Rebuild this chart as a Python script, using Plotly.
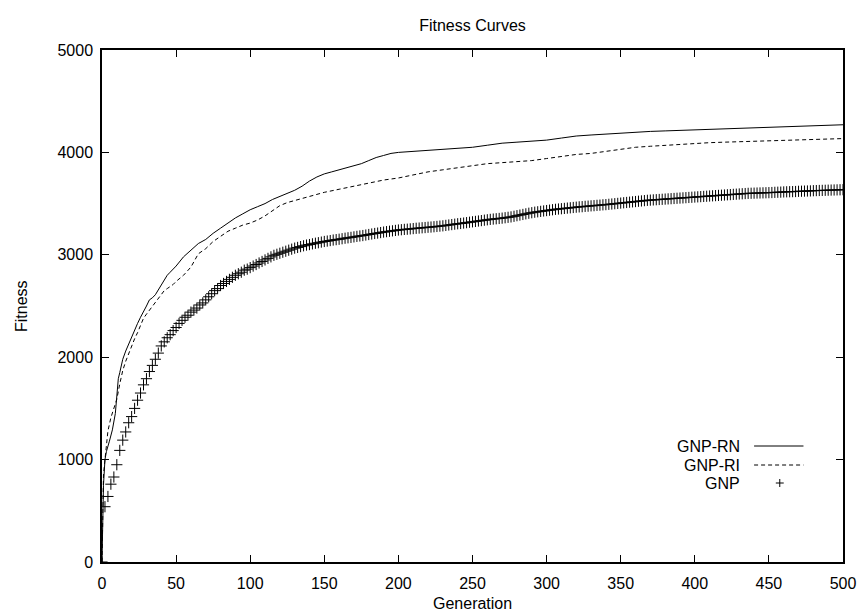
import plotly.graph_objects as go

# ---------------- data ----------------
rn_gen = [0, 1, 2, 3, 5, 7, 9, 10, 11, 12, 14, 16, 18, 20, 22, 24, 26, 28, 30, 32, 34, 36, 38, 40,
          42, 44, 46, 48, 50, 55, 60, 65, 70, 75, 80, 85, 90, 95, 100, 105, 110, 115, 120, 125,
          130, 135, 140, 145, 150, 155, 160, 165, 170, 175, 180, 185, 190, 195, 200, 210, 220,
          230, 240, 250, 260, 270, 280, 290, 300, 310, 320, 330, 340, 350, 360, 370, 380, 390,
          400, 410, 420, 430, 440, 450, 460, 470, 480, 490, 500]
rn_fit = [0, 750, 1000, 1080, 1180, 1290, 1450, 1600, 1790, 1850, 1980, 2060, 2130, 2200, 2270,
          2330, 2390, 2440, 2500, 2560, 2580, 2610, 2660, 2710, 2760, 2800, 2830, 2860, 2890,
          2980, 3050, 3110, 3150, 3210, 3260, 3310, 3360, 3400, 3440, 3470, 3500, 3540, 3570,
          3600, 3630, 3670, 3720, 3760, 3790, 3810, 3830, 3850, 3870, 3890, 3920, 3950, 3970,
          3990, 4000, 4010, 4020, 4030, 4040, 4050, 4070, 4090, 4100, 4110, 4120, 4140, 4160,
          4170, 4180, 4190, 4200, 4205, 4210, 4215, 4220, 4225, 4230, 4235, 4240, 4245, 4250,
          4255, 4260, 4265, 4270]

ri_gen = [0, 1, 2, 3, 4, 6, 8, 10, 12, 14, 16, 18, 20, 22, 24, 26, 28, 30, 32, 34, 36, 38, 40,
          42, 44, 46, 48, 50, 55, 60, 65, 70, 75, 80, 85, 90, 95, 100, 105, 110, 115, 120, 125,
          130, 135, 140, 145, 150, 160, 170, 180, 190, 200, 210, 220, 230, 240, 250, 260, 270,
          280, 290, 300, 310, 320, 330, 340, 350, 360, 370, 380, 390, 400, 410, 420, 430, 440,
          450, 460, 470, 480, 490, 500]
ri_fit = [0, 850, 1000, 1150, 1280, 1410, 1500, 1590, 1740, 1870, 1960, 2040, 2110, 2180, 2240,
          2320, 2380, 2420, 2460, 2500, 2540, 2580, 2620, 2650, 2670, 2690, 2710, 2740, 2800,
          2880, 3010, 3060, 3130, 3180, 3230, 3260, 3290, 3310, 3340, 3380, 3430, 3480, 3510,
          3530, 3550, 3570, 3590, 3610, 3640, 3670, 3700, 3730, 3750, 3780, 3810, 3830, 3850,
          3870, 3890, 3900, 3910, 3920, 3940, 3960, 3980, 3990, 4010, 4030, 4050, 4060, 4070,
          4080, 4090, 4095, 4100, 4105, 4110, 4115, 4120, 4125, 4125, 4130, 4135]

gnp_gen = list(range(0, 501, 2))
gnp_fit = [0, 540, 640, 760, 830, 950, 1090, 1190, 1270, 1360, 1420, 1500, 1580, 1650, 1730,
           1790, 1860, 1920, 1980, 2040, 2110, 2150, 2190, 2220, 2260, 2290, 2330, 2360, 2390,
           2410, 2440, 2460, 2480, 2510, 2530, 2560, 2590, 2620, 2650, 2670, 2700, 2720, 2740,
           2760, 2780, 2800, 2815, 2830, 2850, 2860, 2875, 2890, 2905, 2920, 2935, 2950, 2965,
           2980, 2995, 3005, 3015, 3025, 3035, 3045, 3055, 3065, 3072, 3080, 3088, 3095, 3100,
           3107, 3113, 3118, 3124, 3130, 3134, 3139, 3144, 3148, 3152, 3157, 3162, 3166, 3170,
           3175, 3180, 3184, 3188, 3193, 3198, 3203, 3208, 3212, 3217, 3222, 3226, 3230, 3234,
           3238, 3242, 3245, 3248, 3250, 3253, 3256, 3259, 3261, 3264, 3266, 3269, 3271, 3274,
           3277, 3280, 3283, 3287, 3291, 3295, 3299, 3303, 3306, 3310, 3314, 3318, 3322, 3326,
           3330, 3334, 3338, 3342, 3346, 3349, 3352, 3355, 3358, 3362, 3366, 3370, 3376, 3382,
           3388, 3394, 3400, 3406, 3411, 3416, 3420, 3424, 3428, 3432, 3436, 3440, 3444, 3447,
           3450, 3453, 3456, 3459, 3462, 3465, 3468, 3470, 3473, 3475, 3478, 3480, 3483, 3485,
           3488, 3490, 3493, 3496, 3499, 3502, 3505, 3508, 3511, 3514, 3517, 3520, 3523, 3526,
           3529, 3532, 3534, 3536, 3538, 3540, 3542, 3544, 3546, 3548, 3550, 3552, 3554, 3556,
           3558, 3560, 3562, 3564, 3566, 3568, 3570, 3572, 3574, 3576, 3578, 3580, 3582, 3584,
           3586, 3588, 3590, 3592, 3594, 3596, 3598, 3600, 3601, 3602, 3603, 3604, 3605, 3606,
           3607, 3608, 3610, 3611, 3612, 3614, 3615, 3616, 3617, 3618, 3620, 3621, 3622, 3623,
           3624, 3626, 3627, 3628, 3629, 3630, 3631, 3632, 3633, 3634, 3635, 3636]

x_ticks = [0, 50, 100, 150, 200, 250, 300, 350, 400, 450, 500]
y_ticks = [0, 1000, 2000, 3000, 4000, 5000]
series_names = ["GNP-RN", "GNP-RI", "GNP"]
title_text = "Fitness Curves"
x_title = "Generation"
y_title = "Fitness"

# ---------------- figure ----------------
FONT = "Liberation Sans, Arial, Helvetica, sans-serif"
W, H = 868, 613
ML, MR, MT, MB = 102, 16, 50, 51
PW, PH = W - ML - MR, H - MT - MB

fig = go.Figure()
fig.add_trace(go.Scatter(x=rn_gen, y=rn_fit, mode="lines", name=series_names[0],
                         line=dict(color="black", width=1), showlegend=False))
fig.add_trace(go.Scatter(x=ri_gen, y=ri_fit, mode="lines", name=series_names[1],
                         line=dict(color="black", width=1, dash="4px,3px"), showlegend=False))
fig.add_trace(go.Scatter(x=gnp_gen, y=gnp_fit, mode="markers", name=series_names[2],
                         marker=dict(symbol="cross-thin-open", size=8, color="black",
                                     line=dict(color="black", width=1)),
                         showlegend=False))

axis_common = dict(showline=True, linecolor="black", linewidth=1.5, mirror="ticks",
                   ticks="inside", ticklen=7, tickwidth=1, tickcolor="black",
                   showgrid=False, zeroline=False,
                   tickfont=dict(family=FONT, size=16, color="black"))

fig.update_layout(
    width=W, height=H, margin=dict(l=ML, r=MR, t=MT, b=MB),
    paper_bgcolor="white", plot_bgcolor="white",
    font=dict(family=FONT, size=16, color="black"),
    title=dict(text=title_text, x=0.5, xref="paper", xanchor="center",
               y=1 - 25 / H, yref="container", yanchor="middle",
               font=dict(family=FONT, size=16, color="black")),
    xaxis=dict(range=[0, 500], tickvals=x_ticks, ticktext=[str(v) for v in x_ticks],
               ticklabelstandoff=6, **axis_common),
    yaxis=dict(range=[0, 5000], tickvals=y_ticks, ticktext=[str(v) for v in y_ticks],
               ticklabelstandoff=4, **axis_common),
    showlegend=False,
)

# axis titles
fig.add_annotation(text=x_title, xref="paper", yref="paper", x=0.5, y=-(603 - 562) / PH,
                   xanchor="center", yanchor="middle", showarrow=False,
                   font=dict(family=FONT, size=16, color="black"))
fig.add_annotation(text=y_title, xref="paper", yref="paper", x=(20 - ML) / PW, y=0.5,
                   xanchor="center", yanchor="middle", textangle=-90, showarrow=False,
                   font=dict(family=FONT, size=16, color="black"))

# custom gnuplot-style key (text left, sample right)
def px2x(px):
    return (px - ML) / PW

def py2y(py):
    return (H - MB - py) / PH

rows_y = [446, 465, 483]
for name, ry in zip(series_names, rows_y):
    fig.add_annotation(text=name, xref="paper", yref="paper", x=px2x(750), y=py2y(ry),
                       xanchor="right", yanchor="middle", showarrow=False,
                       font=dict(family=FONT, size=16, color="black"))
fig.add_shape(type="line", xref="paper", yref="paper", x0=px2x(762), x1=px2x(812),
              y0=py2y(rows_y[0]), y1=py2y(rows_y[0]), line=dict(color="black", width=1))
fig.add_shape(type="line", xref="paper", yref="paper", x0=px2x(762), x1=px2x(812),
              y0=py2y(rows_y[1]), y1=py2y(rows_y[1]), line=dict(color="black", width=1, dash="4px,3px"))
fig.add_shape(type="line", xref="paper", yref="paper", x0=px2x(784), x1=px2x(792),
              y0=py2y(rows_y[2]), y1=py2y(rows_y[2]), line=dict(color="black", width=1))
fig.add_shape(type="line", xref="paper", yref="paper", x0=px2x(788), x1=px2x(788),
              y0=py2y(rows_y[2] - 4), y1=py2y(rows_y[2] + 4), line=dict(color="black", width=1))

fig.write_html("out.html")
